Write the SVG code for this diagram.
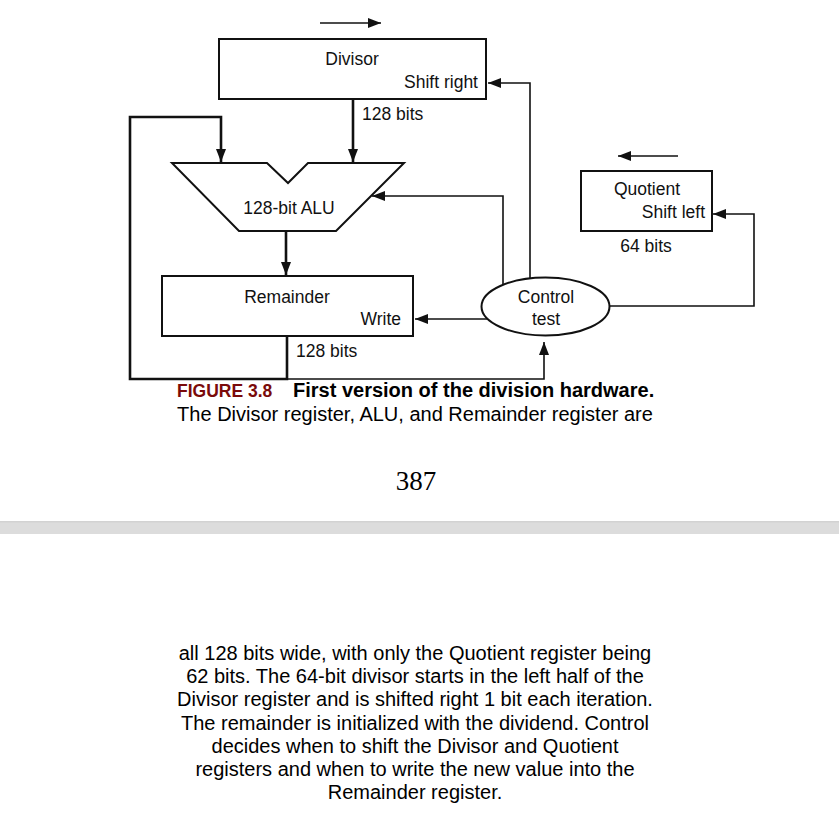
<svg xmlns="http://www.w3.org/2000/svg" width="839" height="822" viewBox="0 0 839 822">
<style>
.box{fill:#fff;stroke:#111;stroke-width:2}
.lbl{font-family:"Liberation Sans",Arial,sans-serif;font-size:17.5px;fill:#111}
.thick{fill:none;stroke:#111;stroke-width:2.6}
.thin{fill:none;stroke:#111;stroke-width:1.6}
.txt{font-family:"Liberation Sans",Arial,sans-serif;font-size:20px;fill:#000}
</style>
<defs>
<marker id="ah" markerUnits="userSpaceOnUse" markerWidth="14" markerHeight="10" refX="13" refY="5" orient="auto">
<path d="M0,0 L13,5 L0,10 z" fill="#111"/>
</marker>
</defs>
<rect width="839" height="822" fill="#fff"/>
<g id="connectors">
<path class="thin" d="M320,23 H381" marker-end="url(#ah)"/>
<path class="thin" d="M678,156 H618" marker-end="url(#ah)"/>
<path class="thick" d="M353,100 V162" marker-end="url(#ah)"/>
<path class="thick" d="M287,337 V379 H130 V117 H221 V162" marker-end="url(#ah)"/>
<path class="thick" d="M286,231 V275" marker-end="url(#ah)"/>
<path class="thin" d="M287,379 H544 V342" marker-end="url(#ah)"/>
<path class="thin" d="M530,279 V83 H488" marker-end="url(#ah)"/>
<path class="thin" d="M503,286 V196 H372" marker-end="url(#ah)"/>
<path class="thin" d="M488,319 H415" marker-end="url(#ah)"/>
<path class="thin" d="M609,306 H754 V214 H713" marker-end="url(#ah)"/>
</g>
<g id="divisor">
<rect class="box" x="219" y="39" width="267" height="60"/>
<text class="lbl" x="352" y="65" text-anchor="middle">Divisor</text>
<text class="lbl" x="478" y="88" text-anchor="end">Shift right</text>
<text class="lbl" x="362" y="120">128 bits</text>
</g>
<g id="alu">
<path class="box" d="M172,163 H267 L288,183 L308,163 H404 L336,231 H239 Z"/>
<text class="lbl" x="289" y="214" text-anchor="middle">128-bit ALU</text>
</g>
<g id="remainder">
<rect class="box" x="162" y="276" width="251" height="60"/>
<text class="lbl" x="287" y="303" text-anchor="middle">Remainder</text>
<text class="lbl" x="401" y="325" text-anchor="end">Write</text>
<text class="lbl" x="296" y="357">128 bits</text>
</g>
<g id="control">
<ellipse class="box" cx="545.5" cy="306.5" rx="64" ry="29"/>
<text class="lbl" x="546" y="303" text-anchor="middle">Control</text>
<text class="lbl" x="546" y="325" text-anchor="middle">test</text>
</g>
<g id="quotient">
<rect class="box" x="581" y="171" width="131" height="60"/>
<text class="lbl" x="647" y="195" text-anchor="middle">Quotient</text>
<text class="lbl" x="705" y="218" text-anchor="end">Shift left</text>
<text class="lbl" x="646" y="252" text-anchor="middle">64 bits</text>
</g>
<g id="caption">
<text x="177" y="397" style="font-family:'Liberation Sans',Arial,sans-serif;font-weight:bold"><tspan font-size="17.5" fill="#7a0a0a">FIGURE 3.8</tspan><tspan x="293" font-size="20" fill="#000">First version of the division hardware.</tspan></text>
<text class="txt" x="415" y="421" text-anchor="middle">The Divisor register, ALU, and Remainder register are</text>
<text x="416" y="490" text-anchor="middle" style="font-family:'Liberation Serif','Times New Roman',serif;font-size:27px;fill:#000">387</text>
</g>
<rect x="0" y="521" width="839" height="13" fill="#dcdcdc"/>
<rect x="0" y="521" width="839" height="1.5" fill="#d2d2d2"/>
<g id="paragraph" class="txt" text-anchor="middle">
<text class="txt" x="415" y="660" text-anchor="middle">all 128 bits wide, with only the Quotient register being</text>
<text class="txt" x="415" y="683" text-anchor="middle">62 bits. The 64-bit divisor starts in the left half of the</text>
<text class="txt" x="415" y="706" text-anchor="middle">Divisor register and is shifted right 1 bit each iteration.</text>
<text class="txt" x="415" y="730" text-anchor="middle">The remainder is initialized with the dividend. Control</text>
<text class="txt" x="415" y="753" text-anchor="middle">decides when to shift the Divisor and Quotient</text>
<text class="txt" x="415" y="776" text-anchor="middle">registers and when to write the new value into the</text>
<text class="txt" x="415" y="799" text-anchor="middle">Remainder register.</text>
</g>
</svg>
